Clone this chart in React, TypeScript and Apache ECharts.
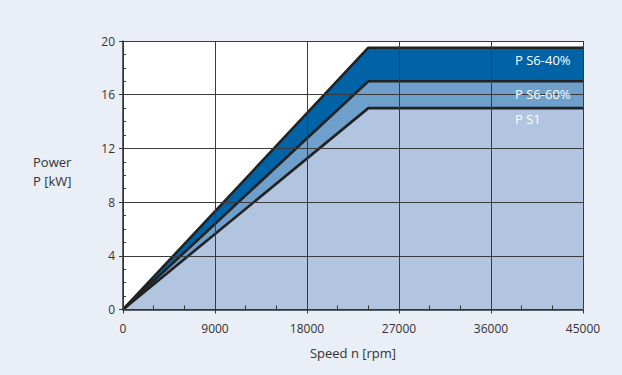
import React, { useEffect, useRef } from "react";
import * as echarts from "echarts";

const speeds = [0, 24000, 45000];
const powerS640 = [0, 19.5, 19.5];
const powerS660 = [0, 17, 17];
const powerS1 = [0, 15, 15];
const seriesNames = ["P S6-40%", "P S6-60%", "P S1"];
const fills = ["#0063a6", "#6f9fcb", "#b1c5e1"];

const FONT = "'Open Sans', 'DejaVu Sans', sans-serif";

export default function App() {
  const ref = useRef<HTMLDivElement>(null);
  useEffect(() => {
    if (!ref.current) return;
    const chart = echarts.init(ref.current, undefined, { renderer: "svg" });
    const sets = [powerS640, powerS660, powerS1];
    const series: any[] = sets.map((vals, i) => ({
      name: seriesNames[i],
      type: "line",
      data: speeds.map((s, j) => [s, vals[j]]),
      symbol: "none",
      z: 1,
      lineStyle: { color: "#222", width: 2.6 },
      areaStyle: { color: fills[i], opacity: 1, origin: "start" },
    }));
    chart.setOption({
      animation: false,
      backgroundColor: "#e9eef7",
      grid: {
        left: 123,
        right: 39,
        top: 41,
        bottom: 65.5,
        show: true,
        backgroundColor: "#ffffff",
        borderWidth: 0,
      },
      xAxis: [
        {
          type: "value",
          min: 0,
          max: 45000,
          interval: 9000,
          position: "bottom",
          z: 3,
          name: "Speed n [rpm]",
          nameLocation: "middle",
          nameGap: 37,
          nameTextStyle: { color: "#333", fontSize: 13, fontFamily: FONT },
          axisLine: { show: true, lineStyle: { color: "#333", width: 1.5 } },
          axisTick: { show: true, length: 4, lineStyle: { color: "#333" } },
          axisLabel: {
            color: "#333",
            fontSize: 12,
            fontFamily: FONT,
            margin: 13,
            formatter: (v: number) => String(v),
          },
          splitLine: { show: true, lineStyle: { color: "#3a3a3a", width: 1 } },
        },
        {
          type: "value",
          min: 0,
          max: 45000,
          interval: 9000,
          position: "bottom",
          z: 3,
          axisLine: { show: false },
          axisTick: { show: false, inside: true },
          axisLabel: { show: false },
          splitLine: { show: false },
          minorTick: { show: true, splitNumber: 3, length: 4, lineStyle: { color: "#333" } },
        },
      ],
      yAxis: [
        {
          type: "value",
          min: 0,
          max: 20,
          interval: 4,
          z: 3,
          axisLine: { show: true, lineStyle: { color: "#333", width: 1.5 } },
          axisTick: { show: true, length: 4, lineStyle: { color: "#333" } },
          axisLabel: {
            color: "#333",
            fontSize: 12,
            fontFamily: FONT,
            margin: 8,
            formatter: (v: number) => String(v),
          },
          splitLine: { show: true, lineStyle: { color: "#3a3a3a", width: 1 } },
        },
        {
          type: "value",
          min: 0,
          max: 20,
          interval: 4,
          position: "left",
          z: 3,
          axisLine: { show: false },
          axisTick: { show: false, inside: true },
          axisLabel: { show: false },
          splitLine: { show: false },
          minorTick: { show: true, splitNumber: 4, length: 3, lineStyle: { color: "#333" } },
        },
      ],
      series,
      graphic: [
        {
          type: "text",
          left: 33,
          top: 152,
          style: {
            text: "Power\nP [kW]",
            fill: "#333",
            font: `13px ${FONT}`,
            lineHeight: 19,
          },
        },
        {
          type: "text",
          left: 515,
          top: 53,
          z: 10,
          style: { text: seriesNames[0], fill: "#ffffff", font: `13px ${FONT}` },
        },
        {
          type: "text",
          left: 515,
          top: 87,
          z: 10,
          style: { text: seriesNames[1], fill: "#ffffff", font: `13px ${FONT}` },
        },
        {
          type: "text",
          left: 515,
          top: 112,
          z: 10,
          style: { text: seriesNames[2], fill: "#ffffff", font: `13px ${FONT}` },
        },
      ],
    });
    return () => chart.dispose();
  }, []);
  return (
    <div
      ref={ref}
      style={{ position: "fixed", left: 0, top: 0, width: 622, height: 375 }}
    />
  );
}
